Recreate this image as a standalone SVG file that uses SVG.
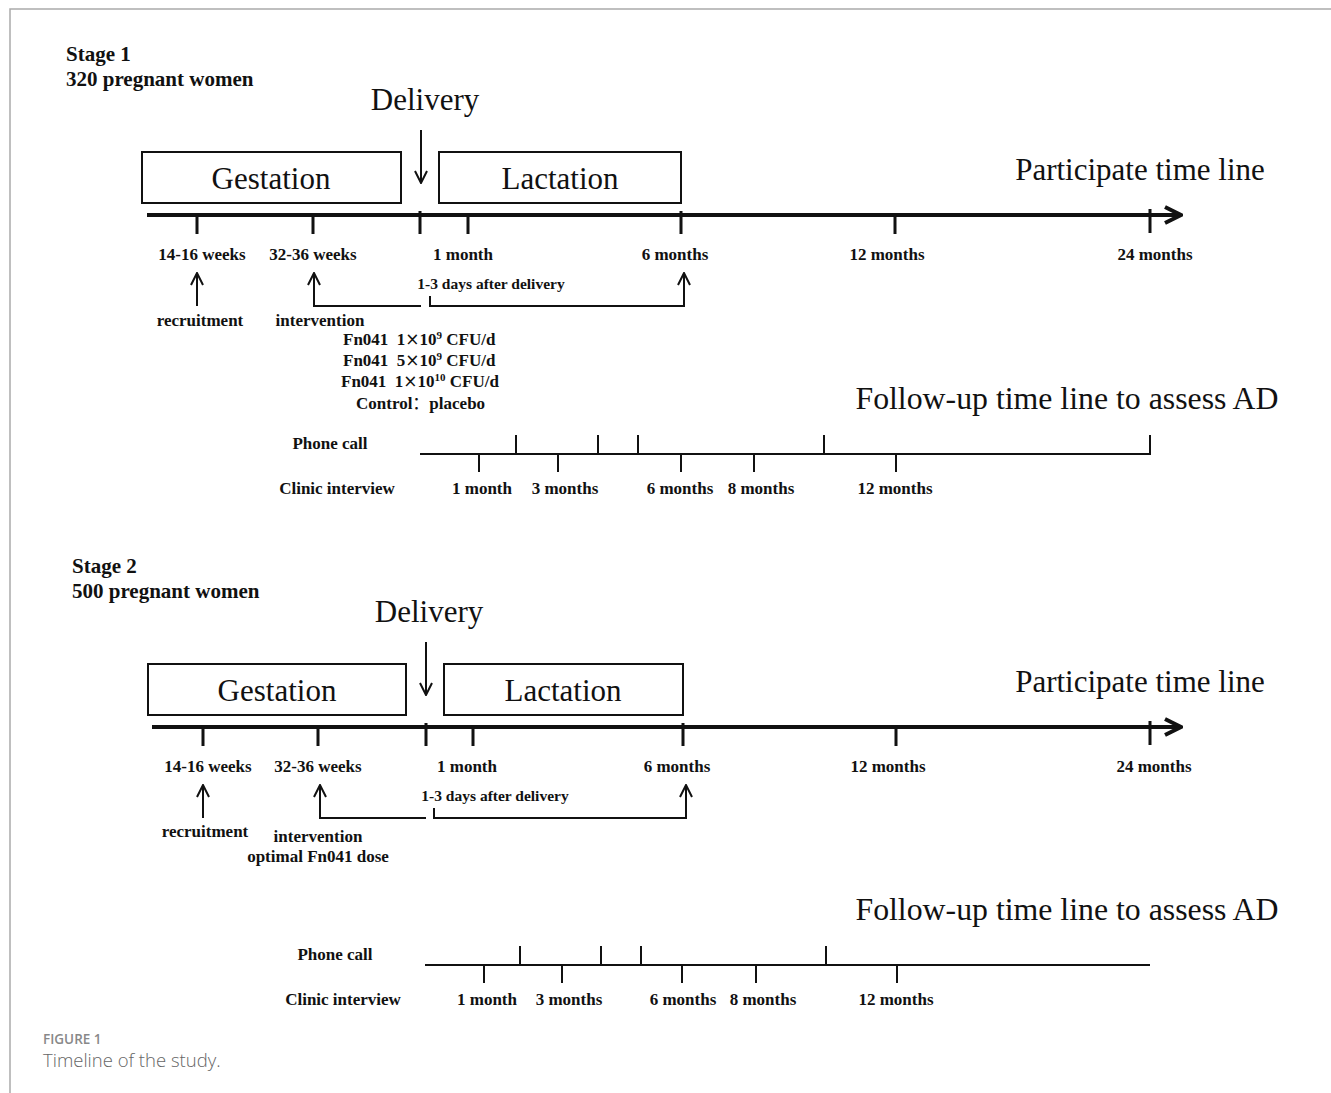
<svg xmlns="http://www.w3.org/2000/svg" width="1331" height="1093" viewBox="0 0 1331 1093">
<defs>
<style>
.b{font-family:"Liberation Serif","Times New Roman",serif;font-weight:bold;font-size:17px;fill:#111}
.s{font-family:"Liberation Serif","Times New Roman",serif;font-weight:bold;font-size:15.5px;fill:#111}
.h{font-family:"Liberation Serif","Times New Roman",serif;font-weight:bold;font-size:21px;fill:#111}
.L{font-family:"Liberation Serif","Times New Roman",serif;font-size:31px;fill:#111}
.cj{font-family:"Noto Sans CJK SC",sans-serif;font-weight:normal}
.x{font-family:"DejaVu Sans",sans-serif;font-weight:normal}
.box{fill:#fff;stroke:#111;stroke-width:2}
.ln{stroke:#111;stroke-width:2;fill:none}
.ax{stroke:#111;stroke-width:4;fill:none}
.tk{stroke:#111;stroke-width:3;fill:none}
.cap1{font-family:"Open Sans","Noto Sans",sans-serif;font-weight:600;font-size:13.5px;fill:#888}
.cap2{font-family:"Open Sans","Noto Sans",sans-serif;font-weight:300;font-size:18.5px;fill:#666}
</style>
<marker id="arr" viewBox="0 0 14 14" refX="13" refY="7" markerWidth="14" markerHeight="14" markerUnits="userSpaceOnUse" orient="auto">
<path d="M1,1 L13,7 L1,13" fill="none" stroke="#111" stroke-width="2"/>
</marker>
<marker id="arrBig" viewBox="0 0 20 20" refX="18" refY="10" markerWidth="20" markerHeight="20" markerUnits="userSpaceOnUse" orient="auto">
<path d="M2,2 L18,10 L2,18" fill="none" stroke="#111" stroke-width="4"/>
</marker>
</defs>
<rect width="1331" height="1093" fill="#fff"/>
<path d="M10,1093 V9 H1331" fill="none" stroke="#aaa" stroke-width="1.5"/>

<!-- ===== Stage 1 ===== -->
<g id="stage1-title">
<text class="h" x="66" y="61">Stage 1</text>
<text class="h" x="66" y="86">320 pregnant women</text>
</g>
<g id="delivery1"><text class="L" x="425" y="110" text-anchor="middle">Delivery</text></g>
<g id="gestation1"><rect class="box" x="142" y="152" width="259" height="51"/><text class="L" x="271" y="189" text-anchor="middle">Gestation</text></g>
<g id="lactation1"><rect class="box" x="439" y="152" width="242" height="51"/><text class="L" x="560" y="189" text-anchor="middle">Lactation</text></g>
<g id="participate1"><text class="L" x="1140" y="180" text-anchor="middle">Participate time line</text></g>
<g id="axis-labels1">
<text class="b" x="202" y="260" text-anchor="middle">14-16 weeks</text>
<text class="b" x="313" y="260" text-anchor="middle">32-36 weeks</text>
<text class="b" x="463" y="260" text-anchor="middle">1 month</text>
<text class="b" x="675" y="260" text-anchor="middle">6 months</text>
<text class="b" x="887" y="260" text-anchor="middle">12 months</text>
<text class="b" x="1155" y="260" text-anchor="middle">24 months</text>
</g>
<g id="days1"><text class="s" x="491" y="289" text-anchor="middle">1-3 days after delivery</text></g>
<g id="recruitment1"><text class="b" x="200" y="326" text-anchor="middle">recruitment</text></g>
<g id="intervention1">
<text class="b" x="320" y="326" text-anchor="middle">intervention</text>
<text class="b" x="343" y="345">Fn041&#160; 1<tspan class="x">×</tspan>10<tspan font-size="11" dy="-6">9</tspan><tspan dy="6"> CFU/d</tspan></text>
<text class="b" x="343" y="366">Fn041&#160; 5<tspan class="x">×</tspan>10<tspan font-size="11" dy="-6">9</tspan><tspan dy="6"> CFU/d</tspan></text>
<text class="b" x="341" y="387">Fn041&#160; 1<tspan class="x">×</tspan>10<tspan font-size="11" dy="-6">10</tspan><tspan dy="6"> CFU/d</tspan></text>
<text class="b" x="356" y="409">Control<tspan class="cj">：</tspan>placebo</text>
</g>
<g id="followup1"><text class="L" x="1067" y="409" text-anchor="middle" style="font-size:31.8px">Follow-up time line to assess AD</text></g>
<g id="phone1"><text class="b" x="330" y="449" text-anchor="middle">Phone call</text></g>
<g id="clinic1">
<text class="b" x="337" y="494" text-anchor="middle">Clinic interview</text>
<text class="b" x="482" y="494" text-anchor="middle">1 month</text>
<text class="b" x="565" y="494" text-anchor="middle">3 months</text>
<text class="b" x="680" y="494" text-anchor="middle">6 months</text>
<text class="b" x="761" y="494" text-anchor="middle">8 months</text>
<text class="b" x="895" y="494" text-anchor="middle">12 months</text>
</g>

<!-- ===== Stage 2 ===== -->
<g id="stage2-title">
<text class="h" x="72" y="573">Stage 2</text>
<text class="h" x="72" y="598">500 pregnant women</text>
</g>
<g id="delivery2"><text class="L" x="429" y="622" text-anchor="middle">Delivery</text></g>
<g id="gestation2"><rect class="box" x="148" y="664" width="258" height="51"/><text class="L" x="277" y="701" text-anchor="middle">Gestation</text></g>
<g id="lactation2"><rect class="box" x="444" y="664" width="239" height="51"/><text class="L" x="563" y="701" text-anchor="middle">Lactation</text></g>
<g id="participate2"><text class="L" x="1140" y="692" text-anchor="middle">Participate time line</text></g>
<g id="axis-labels2">
<text class="b" x="208" y="772" text-anchor="middle">14-16 weeks</text>
<text class="b" x="318" y="772" text-anchor="middle">32-36 weeks</text>
<text class="b" x="467" y="772" text-anchor="middle">1 month</text>
<text class="b" x="677" y="772" text-anchor="middle">6 months</text>
<text class="b" x="888" y="772" text-anchor="middle">12 months</text>
<text class="b" x="1154" y="772" text-anchor="middle">24 months</text>
</g>
<g id="days2"><text class="s" x="495" y="801" text-anchor="middle">1-3 days after delivery</text></g>
<g id="recruitment2"><text class="b" x="205" y="837" text-anchor="middle">recruitment</text></g>
<g id="intervention2">
<text class="b" x="318" y="842" text-anchor="middle">intervention</text>
<text class="b" x="318" y="862" text-anchor="middle">optimal Fn041 dose</text>
</g>
<g id="followup2"><text class="L" x="1067" y="920" text-anchor="middle" style="font-size:31.8px">Follow-up time line to assess AD</text></g>
<g id="phone2"><text class="b" x="335" y="960" text-anchor="middle">Phone call</text></g>
<g id="clinic2">
<text class="b" x="343" y="1005" text-anchor="middle">Clinic interview</text>
<text class="b" x="487" y="1005" text-anchor="middle">1 month</text>
<text class="b" x="569" y="1005" text-anchor="middle">3 months</text>
<text class="b" x="683" y="1005" text-anchor="middle">6 months</text>
<text class="b" x="763" y="1005" text-anchor="middle">8 months</text>
<text class="b" x="896" y="1005" text-anchor="middle">12 months</text>
</g>

<g id="caption">
<text class="cap1" x="43" y="1044">FIGURE 1</text>
<text class="cap2" x="43" y="1067">Timeline of the study.</text>
</g>

<g id="connectors">
<!-- Stage 1 -->
<line class="ln" x1="421" y1="130" x2="421" y2="183" marker-end="url(#arr)"/>
<line class="ax" x1="147" y1="215" x2="1181" y2="215" marker-end="url(#arrBig)"/>
<path class="tk" d="M197,215V234 M313,215V234 M420,211V234 M468,215V234 M681,211V234 M895,215V234 M1150,209V233"/>
<line class="ln" x1="197" y1="306" x2="197" y2="273" marker-end="url(#arr)"/>
<path class="ln" d="M421,306 H314 V273" marker-end="url(#arr)"/>
<path class="ln" d="M430,296 V306 H684 V273" marker-end="url(#arr)"/>
<line class="ln" x1="420" y1="454" x2="1151" y2="454"/>
<path class="ln" d="M516,454V435 M598,454V435 M638,454V435 M824,454V435 M1150,455V435"/>
<path class="ln" d="M479,454V472 M558,454V472 M681,454V472 M754,454V472 M896,454V472"/>
<!-- Stage 2 -->
<line class="ln" x1="426" y1="642" x2="426" y2="695" marker-end="url(#arr)"/>
<line class="ax" x1="152" y1="727" x2="1181" y2="727" marker-end="url(#arrBig)"/>
<path class="tk" d="M203,727V746 M318,727V746 M426,723V746 M473,727V746 M683,723V746 M896,727V746 M1150,721V745"/>
<line class="ln" x1="203" y1="818" x2="203" y2="785" marker-end="url(#arr)"/>
<path class="ln" d="M426,818 H320 V785" marker-end="url(#arr)"/>
<path class="ln" d="M434,808 V818 H686 V785" marker-end="url(#arr)"/>
<line class="ln" x1="425" y1="965" x2="1150" y2="965"/>
<path class="ln" d="M520,965V946 M601,965V946 M641,965V946 M826,965V946"/>
<path class="ln" d="M484,965V983 M562,965V983 M682,965V983 M756,965V983 M897,965V983"/>
</g>
</svg>
